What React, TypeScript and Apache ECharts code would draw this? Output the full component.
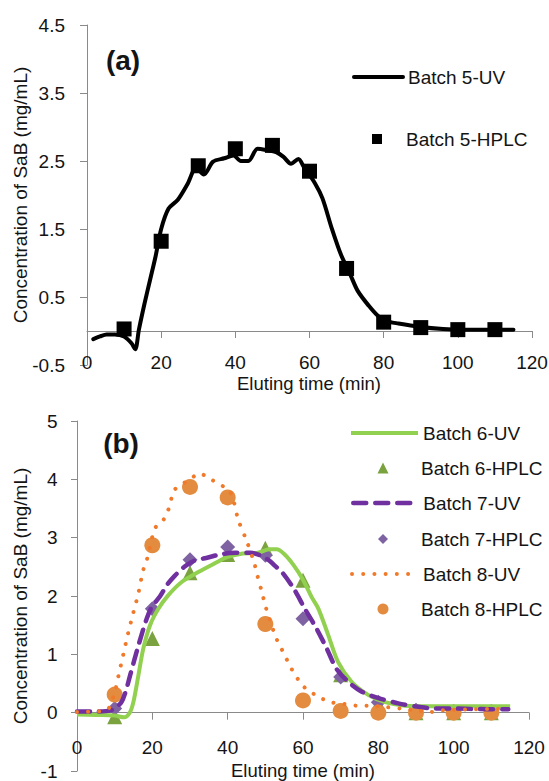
import React, { useEffect, useRef } from 'react';
import * as echarts from 'echarts';

// ---------- Data ----------
const timeTicks = [0, 20, 40, 60, 80, 100, 120];
const yTicksA = [-0.5, 0.5, 1.5, 2.5, 3.5, 4.5];

// Panel (a)
const uv5X = [1.7, 3.5, 5.3, 7.5, 10, 12, 13, 14, 15.5, 17, 18.5, 20, 22, 24.5, 27, 29.5, 31.5, 34, 37, 39.5, 41.5, 43.5, 46, 48.5, 51, 53, 55, 57, 58.5, 61.5, 63.5, 66, 68.5, 71, 73, 76, 78.5, 80.5, 84, 90, 96, 101, 109, 115];
const uv5Y = [-0.12, -0.08, -0.05, -0.05, -0.08, -0.18, -0.27, 0.02, 0.4, 0.75, 1.1, 1.5, 1.8, 1.93, 2.15, 2.4, 2.3, 2.49, 2.54, 2.58, 2.5, 2.5, 2.68, 2.66, 2.63, 2.56, 2.46, 2.53, 2.41, 2.17, 1.95, 1.51, 1.12, 0.83, 0.59, 0.37, 0.22, 0.15, 0.11, 0.06, 0.03, 0.02, 0.02, 0.02];
const hplcX = [10, 20, 30, 40, 50, 60, 70, 80, 90, 100, 110];
const hplc5Y = [0.03, 1.32, 2.43, 2.68, 2.73, 2.35, 0.92, 0.13, 0.05, 0.02, 0.02];

// Panel (b)
const uv6X = [0, 5, 10, 12.5, 14, 15, 16.3, 17.6, 19.4, 21.6, 24.2, 27.8, 32.2, 36.6, 40, 44, 48, 51, 53, 55, 57.5, 60, 62.3, 64.1, 66.7, 69.3, 72.9, 77.4, 81.8, 87.1, 95, 105, 115];
const uv6Y = [-0.03, -0.04, -0.05, -0.08, 0.0, 0.19, 0.64, 1.1, 1.5, 1.78, 2.01, 2.24, 2.41, 2.56, 2.67, 2.73, 2.74, 2.8, 2.8, 2.72, 2.53, 2.28, 1.98, 1.78, 1.33, 0.87, 0.53, 0.3, 0.18, 0.12, 0.11, 0.11, 0.11];
const hplc6Y = [-0.07, 1.27, 2.4, 2.71, 2.82, 2.27, 0.65, 0.15, 0.0, 0.0, 0.0];

const uv7X = [0, 5, 9, 10.5, 11.8, 13, 14.1, 16.3, 18.5, 20, 22, 24, 26, 28.5, 31, 34.8, 38.5, 42, 46, 48.5, 50.8, 52.5, 54.4, 57.5, 60.5, 63.6, 66.3, 68.9, 72, 75.6, 80, 85.3, 90.7, 95.3, 100, 109, 114.5];
const uv7Y = [0.02, 0.02, 0.04, 0.1, 0.18, 0.38, 0.64, 1.15, 1.61, 1.83, 1.99, 2.2, 2.35, 2.5, 2.6, 2.66, 2.72, 2.74, 2.74, 2.7, 2.62, 2.52, 2.41, 2.13, 1.78, 1.44, 1.1, 0.75, 0.53, 0.36, 0.25, 0.16, 0.1, 0.07, 0.07, 0.06, 0.06];
const hplc7Y = [0.07, 1.78, 2.62, 2.84, 2.7, 1.61, 0.61, 0.18, 0.04, 0.02, 0.02];

const uv8X = [0, 4, 7, 8.5, 10, 11, 12.3, 13.6, 14.9, 16.3, 17.6, 18.5, 20.7, 22.9, 24.2, 25.8, 27.5, 30, 32.5, 35.5, 38.8, 40.5, 41.5, 42.8, 45, 47, 47.9, 49.2, 50.1, 52.8, 54.1, 55.4, 56.7, 58, 59.8, 61.5, 64.2, 67.3, 70.8, 74.3, 77.8, 81.4, 86, 90, 93.5, 97, 100, 106, 114];
const uv8Y = [0.01, 0.02, 0.03, 0.08, 0.35, 0.63, 1.0, 1.37, 1.7, 2.05, 2.45, 2.61, 3.16, 3.3, 3.47, 3.81, 3.9, 4.0, 4.1, 4.0, 3.88, 3.8, 3.65, 3.31, 2.95, 2.58, 2.35, 2.04, 1.81, 1.29, 1.12, 0.95, 0.78, 0.64, 0.47, 0.38, 0.27, 0.18, 0.15, 0.12, 0.12, 0.1, 0.07, 0.04, 0.01, 0.04, 0.05, 0.06, 0.07];
const hplc8Y = [0.31, 2.87, 3.87, 3.69, 1.52, 0.21, 0.03, 0.0, 0.0, 0.0, 0.0];

// ---------- Styling ----------
const FONT = '"Liberation Sans", Arial, Helvetica, sans-serif';
const TXT = '#141414';
const AX = '#8a8a8a';

const zip = (xs: number[], ys: number[]) => xs.map((x, i) => [x, ys[i]]);

function lineLegend(name: string, left: number, cy: number, width: number, ls: any) {
  return {
    show: true, selectedMode: false, orient: 'horizontal', padding: 0, itemGap: 0,
    left, top: cy - 9.5, itemWidth: width, itemHeight: 12,
    data: [name],
    textStyle: { fontSize: 19, fontFamily: FONT, color: TXT },
    itemStyle: { opacity: 0 },
    lineStyle: ls,
  };
}

function markLegend(name: string, cx: number, cy: number, size: number, textX: number) {
  const left = cx - size / 2;
  return {
    show: true, selectedMode: false, orient: 'horizontal', padding: 0, itemGap: 0,
    left, top: cy - Math.max(size, 19) / 2, itemWidth: size, itemHeight: size,
    data: [name],
    textStyle: { fontSize: 19, fontFamily: FONT, color: TXT, padding: [0, 0, 0, textX - (left + size + 5)] },
  };
}

// axis that carries the line on y = 0 and its ticks
function xLineAxis(gridIndex: number) {
  return {
    gridIndex, type: 'value', position: 'bottom',
    min: timeTicks[0], max: timeTicks[timeTicks.length - 1], interval: 20,
    axisLine: { show: true, onZero: true, lineStyle: { color: AX, width: 1 } },
    axisTick: { show: true, length: 7, lineStyle: { color: AX, width: 1 } },
    axisLabel: { show: false },
    splitLine: { show: false },
  };
}

// axis that carries the tick labels, at the bottom edge of the plot
function xLabelAxis(gridIndex: number, margin: number) {
  return {
    gridIndex, type: 'value', position: 'bottom',
    min: timeTicks[0], max: timeTicks[timeTicks.length - 1], interval: 20,
    axisLine: { show: false, onZero: false },
    axisTick: { show: false },
    axisLabel: { margin, fontSize: 19, fontFamily: FONT, color: TXT, showMinLabel: true, showMaxLabel: true },
    splitLine: { show: false },
  };
}

function titleText(text: string, x: number, y: number, font: string) {
  return {
    type: 'text', x, y, z: 10,
    style: { text, font, fill: TXT, textAlign: 'center', textVerticalAlign: 'middle', align: 'center', verticalAlign: 'middle' },
  };
}

const option: any = {
  animation: false,
  backgroundColor: '#ffffff',
  grid: [
    { left: 87, top: 25, width: 445, height: 340, containLabel: false, outerBoundsMode: 'none' },
    { left: 77, top: 421, width: 452, height: 350, containLabel: false, outerBoundsMode: 'none' },
  ],
  xAxis: [xLineAxis(0), xLabelAxis(0, -12.5), xLineAxis(1), xLabelAxis(1, -33.5)],
  yAxis: [
    {
      gridIndex: 0, type: 'value', min: -0.5, max: 4.5,
      axisLine: { show: true, onZero: false, lineStyle: { color: AX, width: 1 } },
      axisTick: { show: true, length: 7, customValues: yTicksA, lineStyle: { color: AX, width: 1 } },
      axisLabel: { customValues: yTicksA, margin: 22, fontSize: 19, fontFamily: FONT, color: TXT },
      splitLine: { show: false },
      name: 'Concentration of SaB (mg/mL)', nameLocation: 'middle', nameGap: 57.5,
      nameMoveOverlap: false,
      nameTextStyle: { fontSize: 19, fontFamily: FONT, color: TXT },
    },
    {
      gridIndex: 1, type: 'value', min: -1, max: 5, interval: 1,
      axisLine: { show: true, onZero: false, lineStyle: { color: AX, width: 1 } },
      axisTick: { show: true, length: 6, lineStyle: { color: AX, width: 1 } },
      axisLabel: { margin: 19.5, fontSize: 19, fontFamily: FONT, color: TXT },
      splitLine: { show: false },
      name: 'Concentration of SaB (mg/mL)', nameLocation: 'middle', nameGap: 47.5,
      nameMoveOverlap: false,
      nameTextStyle: { fontSize: 19, fontFamily: FONT, color: TXT },
    },
  ],
  legend: [
    lineLegend('Batch 5-UV', 352, 77, 49, { width: 4, type: 'solid', color: '#000' }),
    markLegend('Batch 5-HPLC', 377, 139, 10, 406),
    lineLegend('Batch 6-UV', 349, 433, 67, { width: 4, type: 'solid', color: '#92D050' }),
    markLegend('Batch 6-HPLC', 383, 468, 11, 421),
    lineLegend('Batch 7-UV', 349, 503, 67, { width: 4.5, type: [13, 9], dashOffset: -2.25, cap: 'round', color: '#7030A0' }),
    markLegend('Batch 7-HPLC', 383, 539, 10, 421),
    lineLegend('Batch 8-UV', 349, 574, 67, { width: 4, type: [0.01, 11.2], dashOffset: -1.5, cap: 'round', color: '#F07A2A' }),
    markLegend('Batch 8-HPLC', 383, 609, 11, 421),
  ],
  graphic: [
    titleText('(a)', 123, 60, 'bold 28px "Liberation Sans", Arial, sans-serif'),
    titleText('(b)', 121, 443, 'bold 28px "Liberation Sans", Arial, sans-serif'),
    titleText('Eluting time (min)', 309, 383, '18.5px "Liberation Sans", Arial, sans-serif'),
    titleText('Eluting time (min)', 303, 770, '18.5px "Liberation Sans", Arial, sans-serif'),
  ],
  series: [
    {
      name: 'Batch 5-UV', type: 'line', xAxisIndex: 0, yAxisIndex: 0, data: zip(uv5X, uv5Y),
      smooth: 0.3, symbol: 'none', lineStyle: { color: '#000', width: 4, cap: 'round', join: 'round' }, itemStyle: { color: '#000' },
    },
    {
      name: 'Batch 5-HPLC', type: 'scatter', xAxisIndex: 0, yAxisIndex: 0, data: zip(hplcX, hplc5Y),
      symbol: 'rect', symbolSize: 15, itemStyle: { color: '#000', opacity: 1 },
    },
    {
      name: 'Batch 6-UV', type: 'line', xAxisIndex: 2, yAxisIndex: 1, data: zip(uv6X, uv6Y),
      smooth: 0.3, symbol: 'none', lineStyle: { color: '#92D050', width: 4, join: 'round' }, itemStyle: { color: '#92D050' },
    },
    {
      name: 'Batch 6-HPLC', type: 'scatter', xAxisIndex: 2, yAxisIndex: 1, data: zip(hplcX, hplc6Y),
      symbol: 'triangle', symbolSize: 15, itemStyle: { color: '#7AA23F', opacity: 1 },
    },
    {
      name: 'Batch 7-UV', type: 'line', xAxisIndex: 2, yAxisIndex: 1, data: zip(uv7X, uv7Y),
      smooth: 0.3, symbol: 'none', lineStyle: { color: '#7030A0', width: 4.5, type: [13, 9], cap: 'round', join: 'round' }, itemStyle: { color: '#7030A0' },
    },
    {
      name: 'Batch 7-HPLC', type: 'scatter', xAxisIndex: 2, yAxisIndex: 1, data: zip(hplcX, hplc7Y),
      symbol: 'diamond', symbolSize: 15, itemStyle: { color: '#7E62A1', opacity: 1 },
    },
    {
      name: 'Batch 8-UV', type: 'line', xAxisIndex: 2, yAxisIndex: 1, data: zip(uv8X, uv8Y),
      smooth: 0.3, symbol: 'none', lineStyle: { color: '#F07A2A', width: 4, type: [0.01, 11], cap: 'round', join: 'round' }, itemStyle: { color: '#F07A2A' },
    },
    {
      name: 'Batch 8-HPLC', type: 'scatter', xAxisIndex: 2, yAxisIndex: 1, data: zip(hplcX, hplc8Y),
      symbol: 'circle', symbolSize: 16, itemStyle: { color: '#E38B3E', opacity: 1 },
    },
  ],
};

export default function App() {
  const ref = useRef<HTMLDivElement>(null);
  useEffect(() => {
    document.body.style.margin = '0';
    const chart = echarts.init(ref.current as HTMLDivElement, null, { renderer: 'svg' });
    chart.setOption(option);
    return () => chart.dispose();
  }, []);
  return (
    <div
      ref={ref}
      style={{ position: 'absolute', left: 0, top: 0, width: 549, height: 781, background: '#fff' }}
    />
  );
}
